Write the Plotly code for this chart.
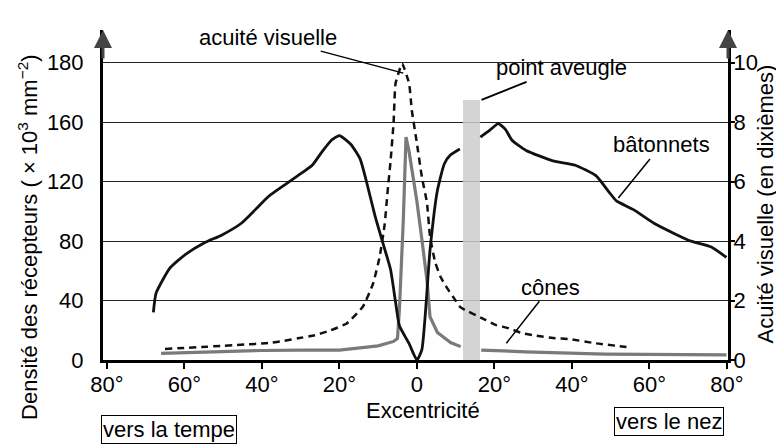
import plotly.graph_objects as go

# ---- data (eccentricity in degrees; negative = towards temple) ----
rods_x = [-68, -67.3, -63.7, -59.7, -54.7, -50.4, -45.3, -41, -38.3, -34, -30.7, -27, -24.5,
          -22, -20, -17, -14.6, -13, -10.8, -8.8, -6.8, -5.5, -4.5, -2, 0, 1.3, 3.4, 5.3,
          7.1, 8.7, 11.1,
          None, 16.4, 19, 21, 22.9, 24.5, 28.2, 35.1, 40.9, 46.2, 49.6, 51.5, 56, 61.2, 66.5,
          70.7, 76, 79.9]
rods_y = [32, 45, 62, 71, 79, 84, 92, 103, 110, 118, 124, 131, 140,
          148, 151, 145, 135, 120, 97, 79, 61, 39, 23, 11, 0, 7, 74, 114,
          132, 138, 142,
          None, 150, 155, 159, 155, 148, 141, 134, 131, 124, 113, 107, 101, 92, 85,
          80, 76, 69]

cones_x = [-66, -55, -40, -30, -20, -10, -6, -5, -4.5, -3.5, -2.8, -2, 0, 1.3, 2.6, 3.4,
           5.3, 8.7, 11.3, None, 16.6, 28, 48.5, 65, 79.9]
cones_y = [4.5, 5.5, 6.4, 6.6, 6.7, 9.5, 12.5, 14.5, 34, 94, 150, 140, 107, 81, 54, 29,
           18.5, 11.7, 9, None, 6.7, 5.5, 4, 3.8, 3.5]

acuity_x = [-65, -38.3, -34.8, -30.7, -26.4, -22.2, -18.1, -13.9, -11.3, -9.6, -8.3, -7.6,
            -6.8, -6, -5.5, -3.8, -2.0, -1.3, 0, 1.3, 2.6, 3.4, 4.7, 6.1, 7.9, 9.8, 11.3,
            17.7, 20.3, 23.7, 27.2, 30.9, 35.1, 39.6, 46.2, 54.1]
acuity_y = [0.37, 0.57, 0.63, 0.73, 0.83, 1.0, 1.23, 1.8, 2.57, 3.47, 4.57, 5.6,
            6.67, 8.0, 9.3, 9.97, 9.3, 8.4, 7.3, 6.15, 5.3, 4.15, 3.3, 2.8, 2.4, 2.04, 1.77,
            1.35, 1.18, 1.07, 0.9, 0.82, 0.74, 0.7, 0.56, 0.44]

blind_spot_x = [14.1]
blind_spot_width = [4.5]
blind_spot_h = [175]

x_tickvals = [-80, -60, -40, -20, 0, 20, 40, 60, 80]
x_ticktext = ["80°", "60°", "40°", "20°", "0", "20°", "40°", "60°", "80°"]
y_tickvals = [0, 40, 80, 120, 160, 200]
y_ticktext = ["0", "40", "80", "120", "160", "180"]
y2_tickvals = [0, 2, 4, 6, 8, 10]
y2_ticktext = ["0", "2", "4", "6", "8", "10"]

FONT = "Liberation Sans, Arial, sans-serif"
FS = 22

fig = go.Figure()
fig.add_trace(go.Bar(x=blind_spot_x, y=blind_spot_h, width=blind_spot_width,
                     marker=dict(color="#cccccc", line=dict(width=0)), opacity=0.85,
                     hoverinfo="skip"))
fig.add_trace(go.Scatter(x=cones_x, y=cones_y, mode="lines",
                         line=dict(color="#7a7a7a", width=3.2), connectgaps=False))
fig.add_trace(go.Scatter(x=rods_x, y=rods_y, mode="lines",
                         line=dict(color="#111111", width=2.8, shape="spline", smoothing=0.5),
                         connectgaps=False))
fig.add_trace(go.Scatter(x=acuity_x, y=acuity_y, mode="lines", yaxis="y2",
                         line=dict(color="#111111", width=2.5, dash="7px,5px",
                                   shape="spline", smoothing=0.4)))

def lbl(text, x, y, ax, ay, w=1.5):
    return dict(text=text, x=x, y=y, xref="x", yref="y", ax=ax, ay=ay,
                showarrow=True, arrowhead=0, arrowwidth=w, arrowcolor="black",
                font=dict(size=FS))

def ptxt(text, x, y, angle=0, box=False, size=FS):
    d = dict(text=text, x=x, y=y, xref="paper", yref="paper", showarrow=False,
             xanchor="center", yanchor="middle", textangle=angle, font=dict(size=size))
    if box:
        d.update(bordercolor="black", borderwidth=1, borderpad=1)
    return d

annotations = [
    lbl("acuité visuelle", -3.5, 193, -135, -36),
    lbl("point aveugle", 16.7, 175, 80, -32, 2),
    lbl("bâtonnets", 52, 109, 43, -53),
    lbl("cônes", 23.1, 11.3, 44, -56),
    ptxt("Densité des récepteurs ( × 10<sup>3</sup> mm<sup>−2</sup>)", -0.12, 0.37, -90),
    ptxt("Acuité visuelle (en dixièmes)", 1.06, 0.473, -90),
    ptxt("Excentricité", 0.512, -0.153),
    ptxt("vers la tempe", 0.106, -0.212, box=True),
    ptxt("vers le nez", 0.906, -0.186, box=True),
    # axis arrowheads
    dict(text="", x=0, y=222, xref="paper", yref="y", ax=0, ay=30, showarrow=True,
         arrowhead=2, arrowsize=1.2, arrowwidth=3, arrowcolor="#444"),
    dict(text="", x=1, y=222, xref="paper", yref="y", ax=0, ay=30, showarrow=True,
         arrowhead=2, arrowsize=1.2, arrowwidth=3, arrowcolor="#444"),
]

fig.update_layout(
    width=784, height=444,
    margin=dict(l=95, r=64, t=22, b=92),
    plot_bgcolor="white", paper_bgcolor="white",
    showlegend=False, bargap=0,
    font=dict(family=FONT, size=FS, color="black"),
    annotations=annotations,
    xaxis=dict(range=[-81, 80.3], tickvals=x_tickvals, ticktext=x_ticktext,
               ticks="outside", ticklen=6, tickwidth=2, tickcolor="black",
               ticklabelstandoff=-3,
               showline=True, linewidth=3, linecolor="black",
               showgrid=False, zeroline=False, tickfont=dict(size=FS)),
    yaxis=dict(range=[0, 222], tickvals=y_tickvals, ticktext=y_ticktext,
               showgrid=True, gridcolor="#222", gridwidth=1, zeroline=False,
               showline=True, linewidth=3, linecolor="black", ticks="",
               ticklabelstandoff=12, tickfont=dict(size=FS)),
    yaxis2=dict(range=[0, 11.1], tickvals=y2_tickvals, ticktext=y2_ticktext,
                overlaying="y", side="right", showgrid=False, zeroline=False,
                showline=True, linewidth=3, linecolor="black",
                ticks="outside", ticklen=4, tickwidth=1.5, tickcolor="black",
                ticklabelstandoff=-6, tickfont=dict(size=FS)),
)

fig.write_html("out.html")
